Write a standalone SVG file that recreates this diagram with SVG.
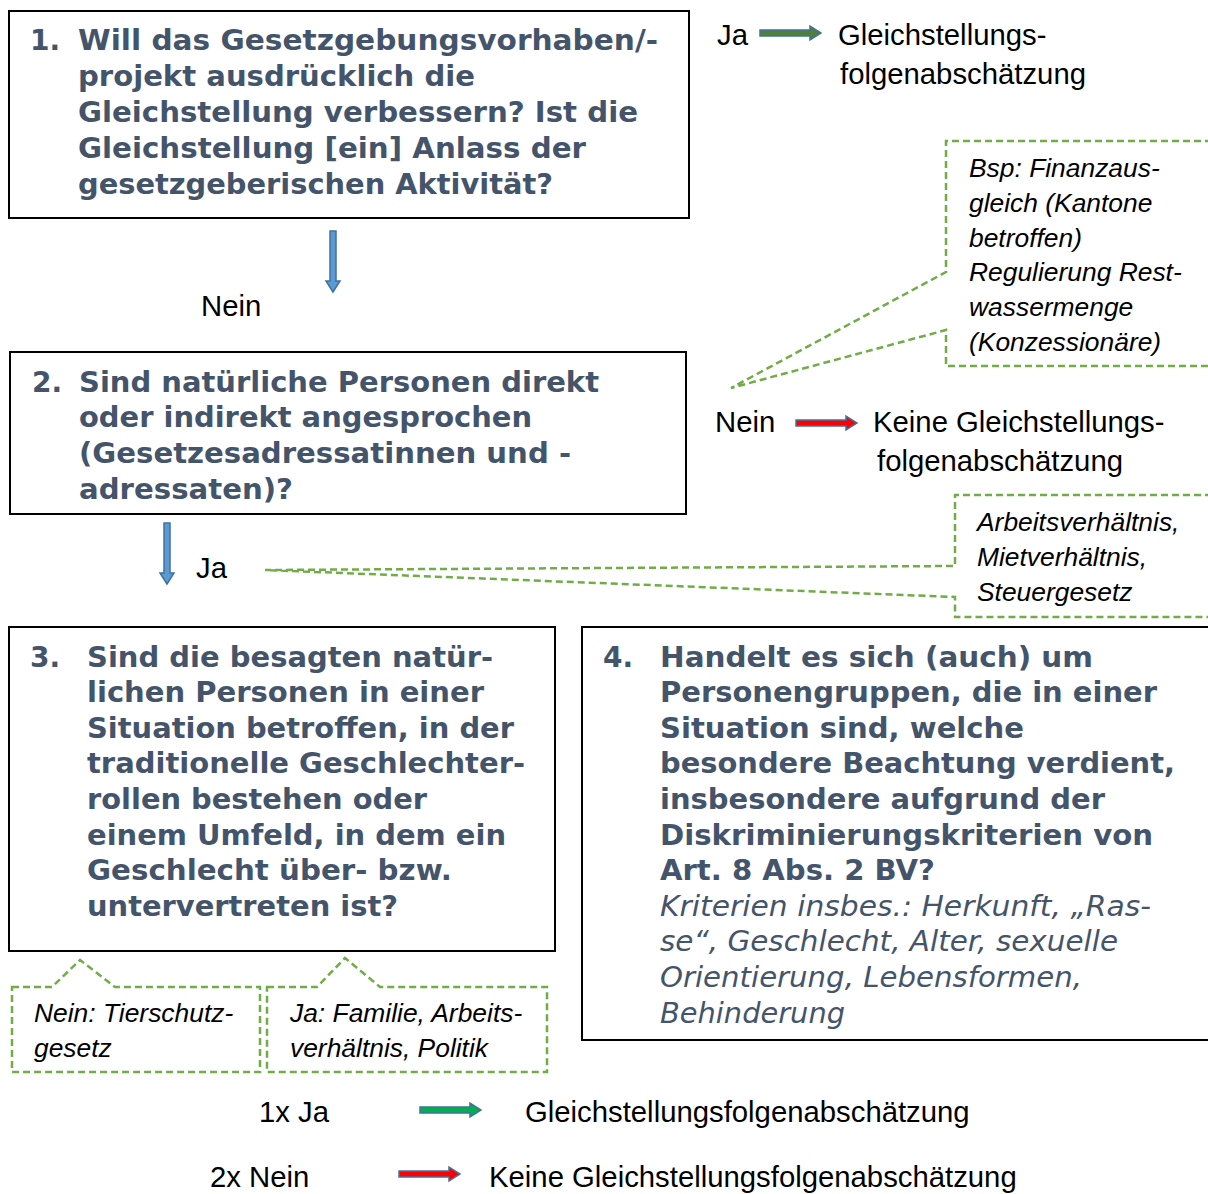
<svg xmlns="http://www.w3.org/2000/svg" xmlns:xlink="http://www.w3.org/1999/xlink" width="1208" height="1194" viewBox="0 0 1208 1194">
<style>
.box{fill:#fff;stroke:#000;stroke-width:2}
.q{font-family:"DejaVu Sans",Verdana,sans-serif;font-weight:bold;font-size:28px;fill:#44546A}
.qi{font-family:"DejaVu Sans",Verdana,sans-serif;font-style:italic;font-size:28px;fill:#44546A}
.t{font-family:"Liberation Sans",Arial,sans-serif;font-size:29.3px;fill:#000}
.ti{font-family:"Liberation Sans",Arial,sans-serif;font-style:italic;font-size:26.4px;fill:#000}
.call{fill:none;stroke:#70AD47;stroke-width:2.5;stroke-dasharray:7 4}
.arr{stroke:#41719C;stroke-width:1.5}
.blue{fill:#5B9BD5}
.olive{fill:#4F7F3A}
.red{fill:#FF0000}
.green{fill:#00B050}
</style>
<defs>
<path id="ra" d="M0,-3 H50 V-7 L61,0 L50,7 V3 H0 Z"/>
</defs>
<rect width="1208" height="1194" fill="#fff"/>

<g id="node1">
<rect class="box" x="9" y="11" width="680" height="207"/>
<text class="q" x="30" y="50">1.</text>
<text class="q" x="78" y="50" textLength="580" lengthAdjust="spacingAndGlyphs">Will das Gesetzgebungsvorhaben/-</text>
<text class="q" x="78" y="86" textLength="397" lengthAdjust="spacingAndGlyphs">projekt ausdrücklich die</text>
<text class="q" x="78" y="122" textLength="560" lengthAdjust="spacingAndGlyphs">Gleichstellung verbessern? Ist die</text>
<text class="q" x="78" y="158" textLength="508" lengthAdjust="spacingAndGlyphs">Gleichstellung [ein] Anlass der</text>
<text class="q" x="78" y="194" textLength="475" lengthAdjust="spacingAndGlyphs">gesetzgeberischen Aktivität?</text>
</g>

<g id="node2">
<rect class="box" x="10" y="352" width="676" height="162"/>
<text class="q" x="32" y="392">2.</text>
<text class="q" x="79" y="392" textLength="520" lengthAdjust="spacingAndGlyphs">Sind natürliche Personen direkt</text>
<text class="q" x="79" y="427" textLength="453" lengthAdjust="spacingAndGlyphs">oder indirekt angesprochen</text>
<text class="q" x="79" y="463" textLength="492" lengthAdjust="spacingAndGlyphs">(Gesetzesadressatinnen und -</text>
<text class="q" x="79" y="499" textLength="214" lengthAdjust="spacingAndGlyphs">adressaten)?</text>
</g>

<g id="node3">
<rect class="box" x="9" y="627" width="546" height="324"/>
<text class="q" x="30" y="667">3.</text>
<text class="q" x="87" y="667" textLength="406" lengthAdjust="spacingAndGlyphs">Sind die besagten natür-</text>
<text class="q" x="87" y="702" textLength="397" lengthAdjust="spacingAndGlyphs">lichen Personen in einer</text>
<text class="q" x="87" y="738" textLength="427" lengthAdjust="spacingAndGlyphs">Situation betroffen, in der</text>
<text class="q" x="87" y="773" textLength="438" lengthAdjust="spacingAndGlyphs">traditionelle Geschlechter-</text>
<text class="q" x="87" y="809" textLength="340" lengthAdjust="spacingAndGlyphs">rollen bestehen oder</text>
<text class="q" x="87" y="845" textLength="419" lengthAdjust="spacingAndGlyphs">einem Umfeld, in dem ein</text>
<text class="q" x="87" y="880" textLength="365" lengthAdjust="spacingAndGlyphs">Geschlecht über- bzw.</text>
<text class="q" x="87" y="916" textLength="311" lengthAdjust="spacingAndGlyphs">untervertreten ist?</text>
</g>

<g id="node4">
<rect class="box" x="582" y="627" width="640" height="413"/>
<text class="q" x="603" y="667">4.</text>
<text class="q" x="660" y="667" textLength="433" lengthAdjust="spacingAndGlyphs">Handelt es sich (auch) um</text>
<text class="q" x="660" y="702" textLength="497" lengthAdjust="spacingAndGlyphs">Personengruppen, die in einer</text>
<text class="q" x="660" y="738" textLength="364" lengthAdjust="spacingAndGlyphs">Situation sind, welche</text>
<text class="q" x="660" y="773" textLength="515" lengthAdjust="spacingAndGlyphs">besondere Beachtung verdient,</text>
<text class="q" x="660" y="809" textLength="445" lengthAdjust="spacingAndGlyphs">insbesondere aufgrund der</text>
<text class="q" x="660" y="845" textLength="493" lengthAdjust="spacingAndGlyphs">Diskriminierungskriterien von</text>
<text class="q" x="660" y="880" textLength="275" lengthAdjust="spacingAndGlyphs">Art. 8 Abs. 2 BV?</text>
<text class="qi" x="660" y="916" textLength="491" lengthAdjust="spacingAndGlyphs">Kriterien insbes.: Herkunft, „Ras-</text>
<text class="qi" x="660" y="951" textLength="458" lengthAdjust="spacingAndGlyphs">se“, Geschlecht, Alter, sexuelle</text>
<text class="qi" x="660" y="987" textLength="422" lengthAdjust="spacingAndGlyphs">Orientierung, Lebensformen,</text>
<text class="qi" x="660" y="1023" textLength="185" lengthAdjust="spacingAndGlyphs">Behinderung</text>
</g>

<g id="callout-finanz">
<path class="call" d="M1212,141 H946 V272 L731,388 L946,330 V366 H1212"/>
<text class="ti" x="969" y="177">Bsp: Finanzaus-</text>
<text class="ti" x="969" y="212">gleich (Kantone</text>
<text class="ti" x="969" y="247">betroffen)</text>
<text class="ti" x="969" y="281">Regulierung Rest-</text>
<text class="ti" x="969" y="316">wassermenge</text>
<text class="ti" x="969" y="351">(Konzessionäre)</text>
</g>

<g id="callout-arbeit">
<path class="call" d="M1212,495 H955 V566 L265,570 L955,597 V617 H1212"/>
<text class="ti" x="977" y="531">Arbeitsverhältnis,</text>
<text class="ti" x="977" y="566">Mietverhältnis,</text>
<text class="ti" x="977" y="601">Steuergesetz</text>
</g>

<g id="callout-nein">
<path class="call" d="M12,987 H52 L80,960 L115,987 H260 V1072 H12 Z"/>
<text class="ti" x="34" y="1022">Nein: Tierschutz-</text>
<text class="ti" x="34" y="1057">gesetz</text>
</g>

<g id="callout-ja">
<path class="call" d="M267,987 H317 L345,958 L380,987 H547 V1072 H267 Z"/>
<text class="ti" x="290" y="1022">Ja: Familie, Arbeits-</text>
<text class="ti" x="290" y="1057">verhältnis, Politik</text>
</g>

<g id="connectors">
<use xlink:href="#ra" href="#ra" class="arr olive" transform="translate(760,33)"/>
<use xlink:href="#ra" href="#ra" class="arr blue" transform="translate(333,231) rotate(90)"/>
<use xlink:href="#ra" href="#ra" class="arr blue" transform="translate(167,523) rotate(90)"/>
<use xlink:href="#ra" href="#ra" class="arr red" transform="translate(796,423)"/>
<use xlink:href="#ra" href="#ra" class="arr green" transform="translate(420,1110)"/>
<use xlink:href="#ra" href="#ra" class="arr red" transform="translate(399,1174)"/>
</g>

<g id="labels">
<text class="t" x="717" y="45">Ja</text>
<text class="t" x="838" y="45">Gleichstellungs-</text>
<text class="t" x="840" y="84">folgenabschätzung</text>
<text class="t" x="201" y="316">Nein</text>
<text class="t" x="196" y="578">Ja</text>
<text class="t" x="715" y="432">Nein</text>
<text class="t" x="873" y="432">Keine Gleichstellungs-</text>
<text class="t" x="877" y="471">folgenabschätzung</text>
<text class="t" x="259" y="1122">1x Ja</text>
<text class="t" x="525" y="1122">Gleichstellungsfolgenabschätzung</text>
<text class="t" x="210" y="1187">2x Nein</text>
<text class="t" x="489" y="1187">Keine Gleichstellungsfolgenabschätzung</text>
</g>
</svg>
